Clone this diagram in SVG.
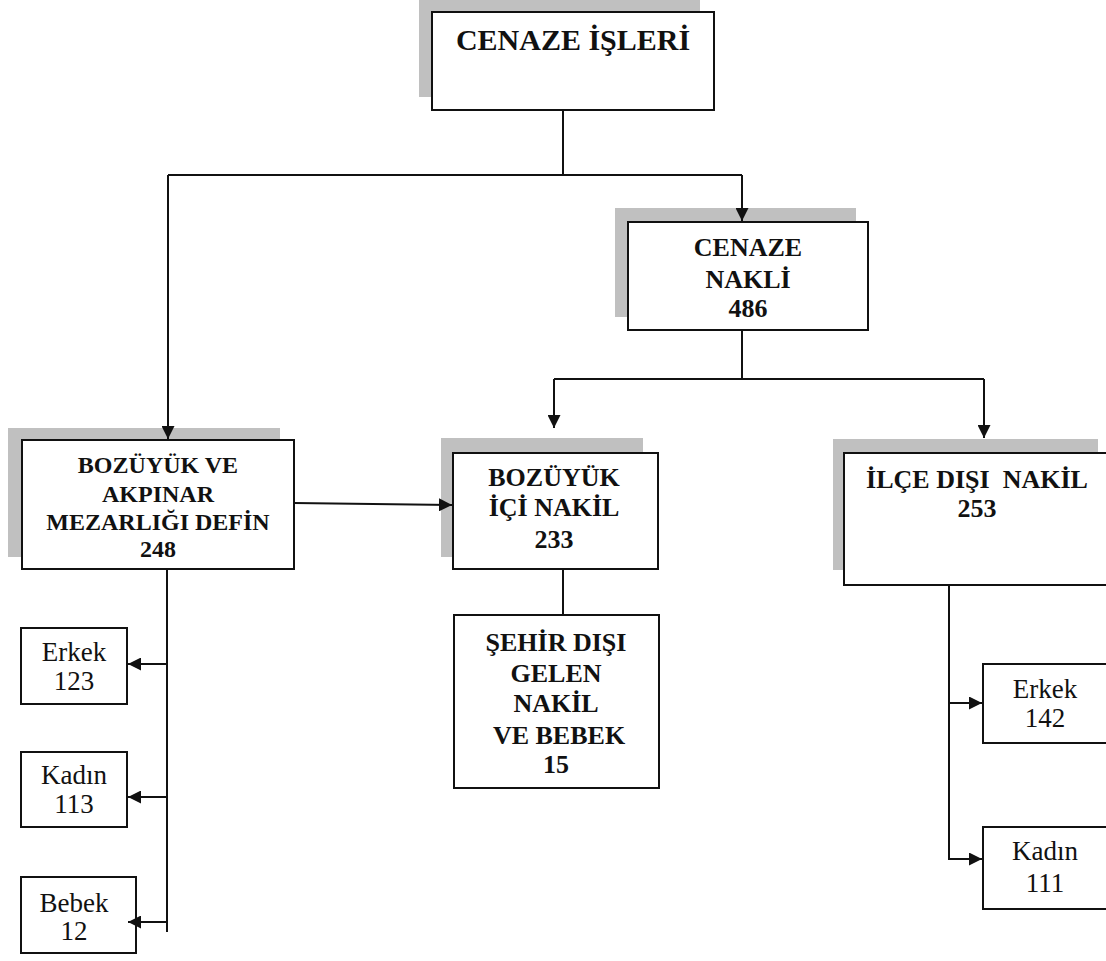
<svg xmlns="http://www.w3.org/2000/svg" width="1106" height="961" viewBox="0 0 1106 961">
<style>
.sh{fill:#c0c0c0;stroke:none}
.bx{fill:#fff;stroke:#111;stroke-width:2}
.ln{fill:none;stroke:#111;stroke-width:2}
.b{font-family:"Liberation Serif","Times New Roman",serif;font-weight:bold;fill:#111;text-anchor:middle;white-space:pre}
.r{font-family:"Liberation Serif","Times New Roman",serif;fill:#111;text-anchor:middle}
</style>
<defs>
<marker id="ah" viewBox="0 0 10 10" refX="10" refY="5" markerWidth="13" markerHeight="13" markerUnits="userSpaceOnUse" orient="auto">
<path d="M0,0 L10,5 L0,10 z" fill="#111"/>
</marker>
</defs>
<rect width="1106" height="961" fill="#fff"/>

<g id="cenaze-isleri">
<rect class="sh" x="419" y="-2" width="281" height="99"/>
<rect class="bx" x="432" y="12" width="282" height="98"/>
<text class="b" x="573" y="50" font-size="30">CENAZE İŞLERİ</text>
</g>

<g id="cenaze-nakli">
<rect class="sh" x="615" y="208" width="241" height="109"/>
<rect class="bx" x="628" y="222" width="240" height="108"/>
<text class="b" x="748" font-size="26"><tspan x="748" y="256">CENAZE</tspan><tspan x="748" y="288">NAKLİ</tspan><tspan x="748" y="317">486</tspan></text>
</g>

<g id="bozuyuk-akpinar">
<rect class="sh" x="8" y="428" width="272" height="129"/>
<rect class="bx" x="22" y="440" width="272" height="129"/>
<text class="b" x="158" font-size="24"><tspan x="158" y="473">BOZÜYÜK VE</tspan><tspan x="158" y="502">AKPINAR</tspan><tspan x="158" y="530">MEZARLIĞI DEFİN</tspan><tspan x="158" y="557">248</tspan></text>
</g>

<g id="bozuyuk-ici">
<rect class="sh" x="441" y="438" width="202" height="119"/>
<rect class="bx" x="453" y="453" width="205" height="116"/>
<text class="b" x="554" font-size="26"><tspan x="554" y="486">BOZÜYÜK</tspan><tspan x="554" y="516">İÇİ NAKİL</tspan><tspan x="554" y="548">233</tspan></text>
</g>

<g id="ilce-disi">
<rect class="sh" x="833" y="439" width="265" height="131"/>
<rect class="bx" x="844" y="453" width="266" height="132"/>
<text class="b" x="977" font-size="26"><tspan x="977" y="488">İLÇE DIŞI  NAKİL</tspan><tspan x="977" y="517">253</tspan></text>
</g>

<g id="sehir-disi">
<rect class="bx" x="454" y="615" width="205" height="173"/>
<text class="b" x="556" font-size="26"><tspan x="556" y="651">ŞEHİR DIŞI</tspan><tspan x="556" y="682">GELEN</tspan><tspan x="556" y="712">NAKİL</tspan><tspan x="556" y="744"> VE BEBEK</tspan><tspan x="556" y="773">15</tspan></text>
</g>

<g id="erkek-123">
<rect class="bx" x="21" y="628" width="106" height="76"/>
<text class="r" x="74" font-size="27"><tspan x="74" y="661">Erkek</tspan><tspan x="74" y="690">123</tspan></text>
</g>

<g id="kadin-113">
<rect class="bx" x="21" y="752" width="106" height="75"/>
<text class="r" x="74" font-size="27"><tspan x="74" y="784">Kadın</tspan><tspan x="74" y="813">113</tspan></text>
</g>

<g id="bebek-12">
<rect class="bx" x="21" y="877" width="115" height="76"/>
<text class="r" x="74" font-size="27"><tspan x="74" y="912">Bebek</tspan><tspan x="74" y="940">12</tspan></text>
</g>

<g id="erkek-142">
<rect class="bx" x="983" y="664" width="126" height="79"/>
<text class="r" x="1045" font-size="27"><tspan x="1045" y="698">Erkek</tspan><tspan x="1045" y="727">142</tspan></text>
</g>

<g id="kadin-111">
<rect class="bx" x="983" y="827" width="126" height="82"/>
<text class="r" x="1045" font-size="27"><tspan x="1045" y="860">Kadın</tspan><tspan x="1045" y="892">111</tspan></text>
</g>

<g id="connectors">
<path class="ln" d="M563,110 V175"/>
<path class="ln" d="M168,175 H742"/>
<path class="ln" d="M168,175 V439" marker-end="url(#ah)"/>
<path class="ln" d="M742,175 V221" marker-end="url(#ah)"/>
<path class="ln" d="M742,330 V379"/>
<path class="ln" d="M554,379 H984"/>
<path class="ln" d="M554,379 V428" marker-end="url(#ah)"/>
<path class="ln" d="M984,379 V438" marker-end="url(#ah)"/>
<path class="ln" d="M294,503 L452,505" marker-end="url(#ah)"/>
<path class="ln" d="M167,569 V932"/>
<path class="ln" d="M167,664 H128" marker-end="url(#ah)"/>
<path class="ln" d="M167,797 H128" marker-end="url(#ah)"/>
<path class="ln" d="M167,922 H128" marker-end="url(#ah)"/>
<path class="ln" d="M563,569 V615"/>
<path class="ln" d="M949,585 V859 H982" marker-end="url(#ah)"/>
<path class="ln" d="M949,703 H982" marker-end="url(#ah)"/>
</g>
</svg>
